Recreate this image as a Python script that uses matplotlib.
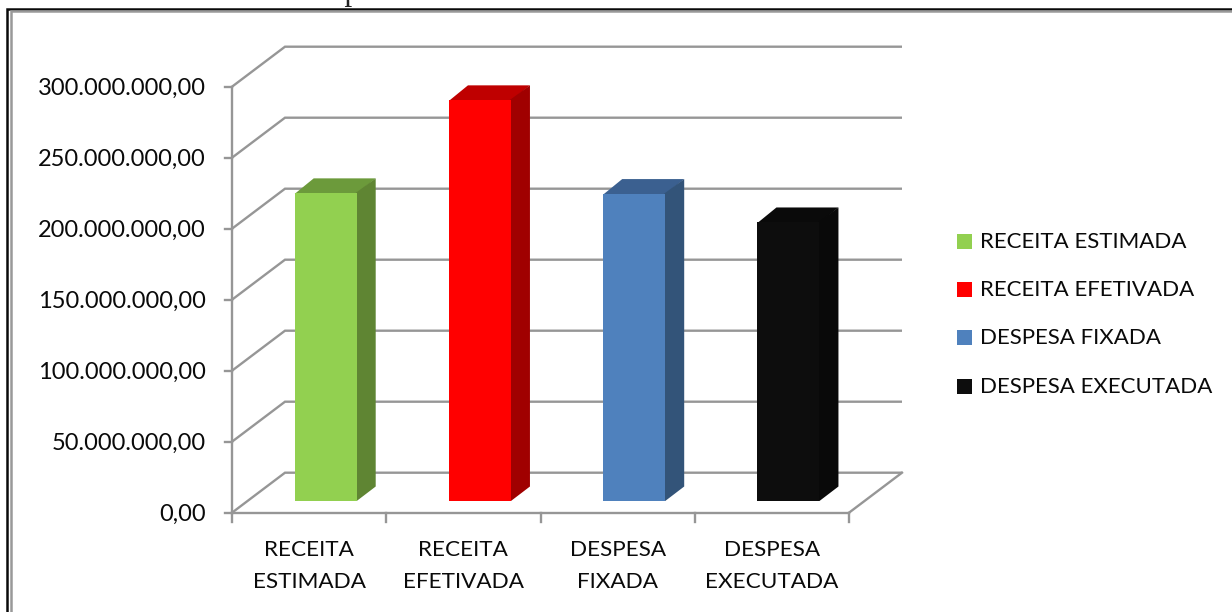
import matplotlib
matplotlib.use("Agg")
import matplotlib.pyplot as plt
from matplotlib.patches import Polygon, Rectangle
from matplotlib.lines import Line2D

plt.rcParams['font.family'] = ['Lato', 'DejaVu Sans']

categories = ["RECEITA\nESTIMADA", "RECEITA\nEFETIVADA", "DESPESA\nFIXADA", "DESPESA\nEXECUTADA"]
legend_labels = ["RECEITA ESTIMADA", "RECEITA EFETIVADA", "DESPESA FIXADA", "DESPESA EXECUTADA"]
values = [217000000, 282500000, 216500000, 196500000]
front_colors = ["#92D050", "#FF0000", "#4F81BD", "#0D0D0D"]
top_colors = ["#6C9A3B", "#BF0000", "#3B6090", "#0A0A0A"]
side_colors = ["#5F8533", "#A00000", "#335479", "#090909"]
y_ticks = [0, 50000000, 100000000, 150000000, 200000000, 250000000, 300000000]
title = "Gráfico 5 - Receitas e Despesas em 2013"

W, H = 1232, 612
GRAY = "#969696"

fig = plt.figure(figsize=(W / 100, H / 100), dpi=100)

# front plane of the fake 3d box, in pixels
left, right, bottom, top = 232, 849, 512.7, 86.7
ax = fig.add_axes([left / W, 1 - bottom / H, (right - left) / W, (bottom - top) / H])
ax.set_xlim(0, 4)
ax.set_ylim(0, 300000000)
ax.axis("off")

# pixel to data helpers for the depth offsets
px_x = 4 / (right - left)
px_y = 300000000 / (bottom - top)
wall_dx, wall_dy = 53 * px_x, 40 * px_y
depth_dx, depth_dy = 19 * px_x, 14.5 * px_y

# back wall gridlines and the slanted lines on the side wall
for v in y_ticks:
    ax.plot([0, wall_dx, 4 + wall_dx], [v, v + wall_dy, v + wall_dy], color=GRAY, lw=1.7,
            clip_on=False, solid_capstyle="butt", solid_joinstyle="miter", zorder=1)
    ax.plot([-7 * px_x, 0], [v, v], color=GRAY, lw=1.7, clip_on=False, zorder=1)
    label = f"{v:,.2f}".replace(",", "#").replace(".", ",").replace("#", ".")
    ax.text(-26 * px_x, v, label, ha="right", va="center_baseline", fontsize=17, color="#0a0a0a")

# axis lines at the front
ax.plot([0, 0], [0, 300000000], color=GRAY, lw=1.7, clip_on=False, zorder=1)
ax.plot([0, 4], [0, 0], color=GRAY, lw=1.7, clip_on=False, zorder=1)
ax.plot([4, 4 + wall_dx], [0, wall_dy], color=GRAY, lw=1.7, clip_on=False, zorder=1)
for i in range(5):
    ax.plot([i, i], [0, -9 * px_y], color=GRAY, lw=1.7, clip_on=False, zorder=1)

# bars, side and top go a pixel under the front face so no seam shows
bar_w = 62 * px_x
base = 11.7 * px_y
for i, v in enumerate(values):
    x0 = i + 62.7 * px_x
    top_v = base + v
    ax.add_patch(Polygon([(x0, top_v - px_y), (x0 + bar_w, top_v - px_y), (x0 + bar_w + depth_dx, top_v + depth_dy),
                          (x0 + depth_dx, top_v + depth_dy)], fc=top_colors[i], ec="none",
                         zorder=3, clip_on=False))
    ax.add_patch(Polygon([(x0 + bar_w - px_x, base), (x0 + bar_w, base), (x0 + bar_w + depth_dx, base + depth_dy),
                          (x0 + bar_w + depth_dx, top_v + depth_dy), (x0 + bar_w - px_x, top_v)],
                         fc=side_colors[i], ec="none", zorder=3.5, clip_on=False))
    ax.add_patch(Rectangle((x0, base), bar_w, v, fc=front_colors[i], ec="none", zorder=4, clip_on=False))
    ax.text(i + 0.5, -27 * px_y, categories[i], ha="center", va="top", fontsize=16.2,
            color="#0a0a0a", linespacing=1.74, clip_on=False)

# legend
leg_y = [241, 289, 337, 386]
for lab, col, y in zip(legend_labels, front_colors, leg_y):
    fig.patches.append(Rectangle((957 / W, 1 - (y + 7.5) / H), 15 / W, 15 / H, transform=fig.transFigure,
                                 fc=col, ec="none"))
    fig.text(980 / W, 1 - (y + 1) / H, lab, ha="left", va="center", fontsize=16, color="#0a0a0a")

# page frame, black outside and gray inside
fig.add_artist(Line2D([7 / W, 7 / W, 1], [0, 1 - 8.5 / H, 1 - 8.5 / H], color="#0a0a0a", lw=1.8,
                      solid_joinstyle="miter", solid_capstyle="butt"))
fig.add_artist(Line2D([11 / W, 11 / W, 1], [0, 1 - 10.5 / H, 1 - 10.5 / H], color="#999999", lw=1.8,
                      solid_joinstyle="miter", solid_capstyle="butt"))

# caption above, cut off by the top of the page
fig.text(15 / W, 1 - 0.3 / H, title, ha="left", va="baseline", fontsize=22.5, color="#222222",
         family=["Liberation Serif"])

fig.savefig("out.png", dpi=100, facecolor="white")
